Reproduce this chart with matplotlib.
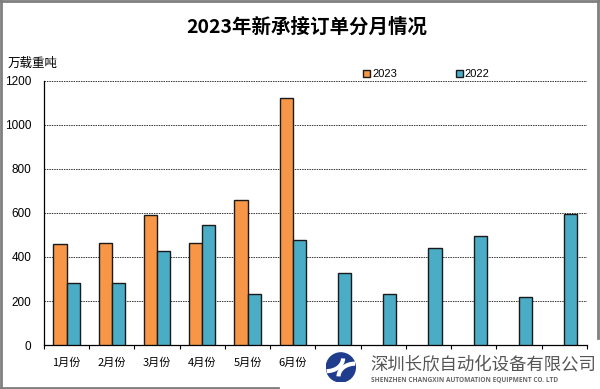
import matplotlib
matplotlib.use("Agg")
import matplotlib.pyplot as plt
import numpy as np
from matplotlib.lines import Line2D
from matplotlib.patches import Circle, Patch, Arc

plt.rcParams["font.family"] = ["Liberation Sans", "Noto Sans CJK SC", "DejaVu Sans"]

months = ["1月份", "2月份", "3月份", "4月份", "5月份", "6月份",
          "", "", "", "", "", ""]
orders_2023 = [460, 462, 592, 465, 659, 1121]
orders_2022 = [280, 283, 427, 544, 230, 476, 326, 232, 439, 495, 218, 594]
y_ticks = [0, 200, 400, 600, 800, 1000, 1200]

ORANGE = "#F79646"
BLUE = "#4BACC6"
CJK = ["Noto Sans CJK SC", "DejaVu Sans"]

fig = plt.figure(figsize=(6.0, 3.89), dpi=100)
ax = fig.add_axes([0.0733, 0.1131, 0.9047, 0.6787])

width = 0.29
x_all = np.arange(len(orders_2022))
x_2023 = np.arange(len(orders_2023))
ax.bar(x_2023 - width / 2, orders_2023, width, color=ORANGE,
       edgecolor="#1a1a1a", linewidth=1.0, zorder=3)
ax.bar(x_all + width / 2, orders_2022, width, color=BLUE,
       edgecolor="#1a1a1a", linewidth=1.0, zorder=3)

ax.set_xlim(-0.5, len(orders_2022) - 0.5)
ax.set_ylim(0, 1200)
ax.set_yticks(y_ticks)
ax.set_yticklabels([str(v) for v in y_ticks], fontsize=8.5)
ax.tick_params(axis="y", length=0, pad=9)

ax.set_xticks(x_all)
ax.set_xticklabels(months, fontsize=8, family=CJK)
ax.set_xticks(np.arange(len(orders_2022) + 1) - 0.5, minor=True)
ax.tick_params(axis="x", which="major", length=0, pad=9)
ax.tick_params(axis="x", which="minor", length=3, width=0.8, direction="out")

ax.grid(axis="y", linestyle=(0, (1.5, 1.0)), color="#333333", linewidth=0.7, zorder=0)
for side in ("top", "right"):
    ax.spines[side].set_visible(False)
ax.spines["left"].set_linewidth(0.9)
ax.spines["bottom"].set_linewidth(0.9)

fig.text(0.511, 0.930, "2023年新承接订单分月情况", ha="center", va="center",
         fontsize=14, fontweight="bold", family=CJK)
fig.text(0.012, 0.838, "万载重吨", ha="left", va="center", fontsize=9, family=CJK)

ax.legend(
    handles=(Patch(facecolor=ORANGE, edgecolor="#1a1a1a", label="2023"),
             Patch(facecolor=BLUE, edgecolor="#1a1a1a", label="2022")),
    loc="lower left", bbox_to_anchor=(0.578, 0.985), ncol=2, frameon=False,
    fontsize=8, handlelength=0.6, handleheight=0.6, handletextpad=0.2,
    columnspacing=5.3, borderpad=0.0,
)

# outer frame (bottom edge stops where the logo starts)
frame = dict(color="#7f7f7f", linewidth=2.0, transform=fig.transFigure)
fig.add_artist(Line2D([0.002, 0.002], [0.0, 1.0], **frame))
fig.add_artist(Line2D([0.0, 1.0], [0.997, 0.997], **frame))
fig.add_artist(Line2D([0.997, 0.997], [0.13, 1.0], **frame))
fig.add_artist(Line2D([0.0, 0.463], [0.003, 0.003], **frame))

# company logo
logo_ax = fig.add_axes([0.543, 0.017, 0.05, 0.077])
logo_ax.set_xlim(-1, 1)
logo_ax.set_ylim(-1, 1)
logo_ax.set_aspect("equal")
logo_ax.axis("off")
logo_ax.add_patch(Circle((0, 0), 0.97, color="#1f3d8c"))
logo_ax.add_patch(Arc((-0.95, 0.6), 2.2, 1.7, theta1=270, theta2=360, color="white", linewidth=3))
logo_ax.add_patch(Arc((0.95, -0.6), 2.2, 1.7, theta1=90, theta2=180, color="white", linewidth=3))
fig.text(0.617, 0.064, "深圳长欣自动化设备有限公司", ha="left", va="center",
         fontsize=12.5, color="#555555", family=CJK)
fig.text(0.619, 0.023, "SHENZHEN CHANGXIN AUTOMATION EQUIPMENT CO. LTD", ha="left",
         va="center", fontsize=4.7, color="#666666", fontweight="bold",
         fontstretch="condensed", family=["Open Sans", "DejaVu Sans"])

fig.savefig("out.png", dpi=100)
